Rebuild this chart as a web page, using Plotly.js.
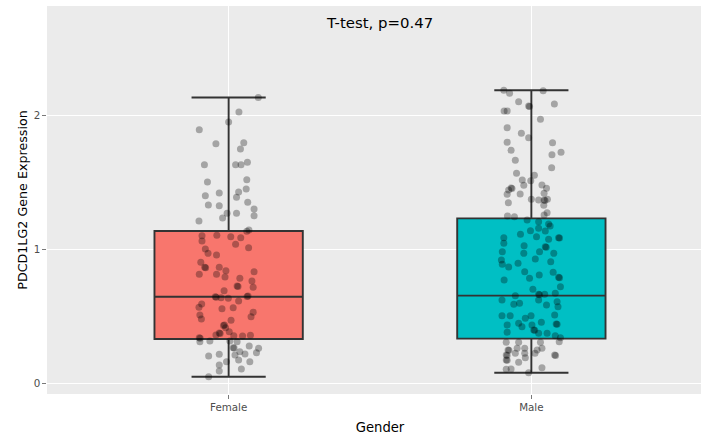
<!DOCTYPE html>
<html>
<head>
<meta charset="utf-8">
<script src="https://cdn.plot.ly/plotly-3.0.1.min.js"></script>
<style>
  html, body { margin: 0; padding: 0; overflow: hidden; background: #fff; }
  #chart { width: 718px; height: 440px; }
</style>
</head>
<body>
<div id="chart"></div>
<script>
// Groups and their box colours
const categories = ['Female', 'Male'];
const groupPos = [1, 2];
const boxColors = ['#F8766D', '#00BFC4'];

// Box summary per group (PDCD1LG2 expression)
const lowerWhisker = [0.049, 0.079];
const q1 = [0.331, 0.333];
const median = [0.646, 0.654];
const q3 = [1.137, 1.231];
const upperWhisker = [2.133, 2.187];

// Individual samples: expression value and horizontal jitter offset
const femaleExpr = [
  2.133, 2.025, 1.950, 1.893, 1.788, 1.796, 1.748, 1.631, 1.631, 1.631,
  1.649, 1.502, 1.520, 1.400, 1.420, 1.428, 1.388, 1.450, 1.331, 1.325,
  1.351, 1.300, 1.250, 1.269, 1.269, 1.234, 1.211, 1.144, 1.134, 1.104,
  1.101, 1.062, 1.094, 1.087, 1.037, 1.012, 1.002, 0.970, 0.957, 0.903,
  0.866, 0.862, 0.866, 0.840, 0.813, 0.813, 0.793, 0.833, 0.784, 0.763,
  0.726, 0.722, 0.716, 0.691, 0.646, 0.643, 0.639, 0.634, 0.651, 0.648,
  0.614, 0.557, 0.564, 0.592, 0.567, 0.530, 0.497, 0.510, 0.480, 0.470,
  0.435, 0.432, 0.415, 0.385, 0.375, 0.372, 0.360, 0.355, 0.353, 0.358,
  0.340, 0.337, 0.310, 0.316, 0.316, 0.310, 0.266, 0.263, 0.278, 0.261,
  0.228, 0.236, 0.219, 0.204, 0.216, 0.211, 0.174, 0.161, 0.161, 0.137,
  0.107, 0.092, 0.049
];
const femaleJitter = [
  0.098, 0.034, 0.000, -0.097, -0.042, 0.050, 0.039, -0.080, 0.023, 0.041,
  0.062, -0.070, 0.060, -0.077, -0.031, 0.033, 0.026, 0.058, -0.067, -0.031,
  0.063, 0.084, 0.084, -0.005, 0.026, -0.020, -0.098, 0.067, 0.060, -0.039,
  -0.088, -0.088, 0.007, 0.040, 0.023, 0.066, -0.077, -0.068, -0.040, -0.092,
  -0.079, -0.076, -0.031, -0.009, -0.097, -0.040, -0.012, 0.084, 0.037, 0.077,
  0.028, 0.031, 0.081, -0.015, -0.044, -0.041, -0.025, -0.001, 0.064, 0.061,
  0.033, -0.022, 0.015, -0.089, -0.098, 0.081, 0.074, -0.095, -0.090, 0.008,
  -0.014, -0.017, -0.010, 0.002, -0.031, -0.028, -0.042, 0.017, 0.046, 0.072,
  -0.097, -0.094, -0.095, -0.062, 0.004, 0.028, 0.015, 0.018, 0.068, 0.099,
  0.092, 0.037, 0.054, -0.066, -0.031, 0.021, 0.033, 0.070, -0.007, -0.031,
  0.042, -0.031, -0.066
];

const maleExpr = [
  2.187, 2.164, 2.184, 2.101, 2.069, 2.066, 2.084, 2.032, 2.032, 1.970,
  1.907, 1.866, 1.833, 1.799, 1.796, 1.739, 1.724, 1.706, 1.664, 1.609,
  1.567, 1.552, 1.517, 1.512, 1.478, 1.480, 1.455, 1.457, 1.454, 1.443,
  1.410, 1.413, 1.418, 1.348, 1.373, 1.368, 1.368, 1.365, 1.373, 1.328,
  1.273, 1.249, 1.243, 1.256, 1.219, 1.206, 1.189,
  1.112, 1.139, 1.157, 1.137, 1.174, 1.087, 1.045, 1.094, 1.075, 1.087,
  1.084, 1.027, 1.019, 1.016, 0.982, 0.970, 0.982, 0.970, 0.920, 0.928,
  0.888, 0.868, 0.896, 0.907, 0.833, 0.808, 0.828, 0.791, 0.788, 0.771,
  0.784, 0.721, 0.701, 0.664, 0.661, 0.664, 0.672, 0.622, 0.654, 0.590,
  0.597, 0.622, 0.584, 0.609, 0.572, 0.504, 0.504, 0.504, 0.485, 0.510,
  0.435, 0.448, 0.422, 0.435, 0.455, 0.443, 0.440, 0.381, 0.398, 0.395,
  0.373, 0.373, 0.355, 0.340, 0.306, 0.306, 0.306, 0.310, 0.249, 0.246,
  0.261, 0.261, 0.249, 0.261, 0.211, 0.208, 0.224, 0.224, 0.224, 0.211,
  0.208, 0.174, 0.171, 0.157, 0.191, 0.107, 0.116, 0.104, 0.079
];
const maleJitter = [
  -0.091, -0.072, 0.039, -0.042, -0.009, -0.006, 0.076, -0.090, -0.080, 0.030,
  -0.080, -0.033, -0.009, -0.080, 0.070, -0.067, 0.098, 0.068, -0.053, 0.067,
  -0.049, 0.010, -0.030, -0.002, -0.025, 0.035, 0.050, -0.067, -0.064, -0.075,
  -0.080, -0.037, 0.042, -0.076, 0.000, 0.024, 0.042, 0.045, 0.053, 0.041,
  0.052, -0.079, -0.056, 0.042, -0.014, 0.024, 0.057,
  -0.036, -0.003, 0.024, 0.046, 0.062, -0.091, -0.091, 0.017, 0.057, 0.090,
  0.093, -0.024, 0.046, 0.049, -0.096, -0.025, 0.027, 0.074, -0.099, 0.013,
  -0.096, -0.075, -0.044, 0.064, -0.022, 0.026, 0.072, 0.090, 0.093, -0.090,
  -0.006, 0.096, 0.005, 0.024, 0.027, 0.044, 0.079, -0.097, -0.053, -0.058,
  -0.039, 0.024, 0.050, 0.085, 0.088, -0.097, -0.070, -0.001, -0.020, 0.077,
  -0.080, -0.042, -0.031, 0.002, 0.033, 0.082, 0.085, -0.080, 0.008, 0.011,
  0.024, 0.052, 0.079, 0.096, -0.083, -0.042, 0.030, 0.092, -0.077, -0.074,
  -0.047, -0.022, 0.019, 0.035, -0.083, -0.080, -0.053, -0.022, 0.012, 0.077,
  0.080, -0.083, -0.080, -0.042, -0.020, -0.067, 0.035, -0.083, -0.009
];

const exprByGroup = [femaleExpr, maleExpr];
const jitterByGroup = [femaleJitter, maleJitter];

const edge = 'rgba(51,51,51,1)';
const traces = [];

// Boxes from the precomputed summaries
categories.forEach((name, i) => {
  traces.push({
    type: 'box',
    name: name,
    x: [groupPos[i]],
    q1: [q1[i]],
    median: [median[i]],
    q3: [q3[i]],
    lowerfence: [lowerWhisker[i]],
    upperfence: [upperWhisker[i]],
    width: 0.49,
    whiskerwidth: 0.5,
    fillcolor: boxColors[i],
    line: { color: edge, width: 1.9 },
    boxpoints: false,
    hoverinfo: 'y',
    showlegend: false
  });
});

// Jittered sample points drawn over the boxes
categories.forEach((name, i) => {
  traces.push({
    type: 'scatter',
    mode: 'markers',
    name: name,
    x: jitterByGroup[i].map(d => groupPos[i] + d),
    y: exprByGroup[i],
    marker: { color: 'rgba(0,0,0,0.3)', size: 7, line: { width: 0 } },
    hoverinfo: 'y',
    showlegend: false
  });
});

const layout = {
  width: 718,
  height: 440,
  margin: { l: 47, r: 5, t: 6, b: 46 },
  paper_bgcolor: '#ffffff',
  plot_bgcolor: '#EBEBEB',
  font: { family: '"DejaVu Sans", Verdana, sans-serif', color: 'rgba(0,0,0,1)' },
  title: {
    text: 'T-test, p=0.47',
    font: { size: 14.9, color: 'rgba(0,0,0,1)' },
    x: 0.5, xref: 'paper', xanchor: 'center',
    y: 1 - 23 / 440, yref: 'container', yanchor: 'middle'
  },
  xaxis: {
    range: [0.4, 2.6],
    tickmode: 'array',
    tickvals: groupPos,
    ticktext: categories,
    ticks: 'outside', ticklen: 3.65, tickwidth: 0.66, tickcolor: edge,
    tickfont: { size: 10.3, color: 'rgba(77,77,77,1)' },
    showgrid: true, gridcolor: '#ffffff', gridwidth: 1,
    zeroline: false, showline: false,
    title: { text: 'Gender', font: { size: 13.2, color: 'rgba(0,0,0,1)' }, standoff: 10 }
  },
  yaxis: {
    range: [-0.08, 2.816],
    tickmode: 'array',
    tickvals: [0, 1, 2],
    ticktext: ['0', '1', '2'],
    ticks: 'outside', ticklen: 3.65, tickwidth: 0.66, tickcolor: edge,
    tickfont: { size: 10.3, color: 'rgba(77,77,77,1)' },
    showgrid: true, gridcolor: '#ffffff', gridwidth: 1,
    zeroline: false, showline: false,
    title: { text: 'PDCD1LG2 Gene Expression', font: { size: 12.7, color: 'rgba(0,0,0,1)' }, standoff: 3 }
  },
  showlegend: false
};

Plotly.newPlot('chart', traces, layout, { displayModeBar: false, staticPlot: true });
</script>
</body>
</html>
